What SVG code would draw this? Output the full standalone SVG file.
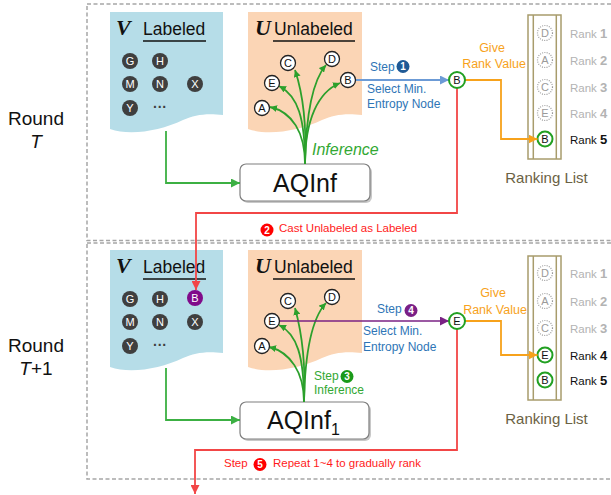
<svg xmlns="http://www.w3.org/2000/svg" width="611" height="495" viewBox="0 0 611 495">
<style>
text{font-family:"Liberation Sans",Arial,sans-serif}
.panel{fill:none;stroke:#a6a6a6;stroke-width:1.5;stroke-dasharray:4 2.5}
.blue{fill:#b6dde8}
.peach{fill:#fbd5b5}
.dk circle{fill:#3f3f3f}
.dk text{fill:#fff;font-size:11px;text-anchor:middle}
.wn circle{fill:#fff;stroke:#222;stroke-width:1.3}
.wn text{fill:#111;font-size:11px;text-anchor:middle}
.gn circle{fill:#fff;stroke:#22a022;stroke-width:2}
.gn text{fill:#111;font-size:11px;text-anchor:middle}
.dn circle{fill:#fff;stroke:#9a9a9a;stroke-width:1.2;stroke-dasharray:1 1.3}
.dn text{fill:#9a9a9a;font-size:11px;text-anchor:middle}
.rk{font-size:11.5px;fill:#b3b3b3}
.rk tspan{font-weight:bold;font-size:13px}
.rkb{font-size:11.5px;fill:#111}
.rkb tspan{font-weight:bold;font-size:13px}
.list{fill:#fff;stroke:#a89c6c;stroke-width:1.5}
.lline{stroke:#a89c6c;stroke-width:1.5}
.title{font-size:17.5px;fill:#111}
.ul{stroke:#111;stroke-width:1.3}
.script{font-family:"Liberation Serif",serif;font-style:italic;font-weight:bold;font-size:22px;fill:#111}
.bluet{font-size:12px;fill:#2e75b6}
.orange{font-size:12.5px;fill:#f7a21b;text-anchor:middle}
.redt{font-size:11.5px;fill:#ff1a1a}
.greent{font-size:12px;fill:#33a833}
.badge text{fill:#fff;font-size:10px;font-weight:bold;text-anchor:middle}
.box{fill:#fff;stroke:#7f7f7f;stroke-width:1.2}
.shadow{fill:#c8c8c8}
.round{font-size:19px;fill:#111;text-anchor:middle}
.fan{fill:none;stroke:#2ca02c;stroke-width:1.8}
.cg{fill:none;stroke:#3cb043;stroke-width:1.8}
.cb{fill:none;stroke:#6c9bd6;stroke-width:1.8}
.cp{fill:none;stroke:#7a2284;stroke-width:1.5}
.co{fill:none;stroke:#f7a21b;stroke-width:1.8}
.cr{fill:none;stroke:#f24646;stroke-width:1.8}
</style>
<defs>
<marker id="mg" viewBox="0 0 10 10" refX="10" refY="5" markerWidth="7" markerHeight="7" markerUnits="userSpaceOnUse" orient="auto"><path d="M0,0 L10,5 L0,10 z" fill="#2ca02c"/></marker>
<marker id="mg2" viewBox="0 0 10 10" refX="10" refY="5" markerWidth="9" markerHeight="9" markerUnits="userSpaceOnUse" orient="auto"><path d="M0,0 L10,5 L0,10 z" fill="#3cb043"/></marker>
<marker id="mb" viewBox="0 0 10 10" refX="10" refY="5" markerWidth="9" markerHeight="9" markerUnits="userSpaceOnUse" orient="auto"><path d="M0,0 L10,5 L0,10 z" fill="#6c9bd6"/></marker>
<marker id="mp" viewBox="0 0 10 10" refX="10" refY="5" markerWidth="9" markerHeight="9" markerUnits="userSpaceOnUse" orient="auto"><path d="M0,0 L10,5 L0,10 z" fill="#7a2284"/></marker>
<marker id="mo" viewBox="0 0 10 10" refX="10" refY="5" markerWidth="9" markerHeight="9" markerUnits="userSpaceOnUse" orient="auto"><path d="M0,0 L10,5 L0,10 z" fill="#f7a21b"/></marker>
<marker id="mr" viewBox="0 0 10 10" refX="10" refY="5" markerWidth="9" markerHeight="9" markerUnits="userSpaceOnUse" orient="auto"><path d="M0,0 L10,5 L0,10 z" fill="#f24646"/></marker>
</defs>

<g id="panels">
<rect class="panel" x="87" y="4" width="540" height="236.5"/>
<rect class="panel" x="87" y="243" width="540" height="236"/>
</g>

<g id="round-labels">
<text class="round" x="36" y="125">Round</text>
<text class="round" x="36" y="148" font-style="italic">T</text>
<text class="round" x="36" y="352">Round</text>
<text class="round" x="36" y="375"><tspan font-style="italic">T</tspan>+1</text>
</g>

<!-- ===== Round T ===== -->
<g id="labeled-T">
<path class="blue" d="M110,12 H223 V115 C205,113 195,115 183,120 C160,131 130,136 110,129 Z"/>
<text class="script" x="116" y="35">V</text>
<text class="title" x="143" y="35">Labeled</text>
<line class="ul" x1="143" y1="41" x2="206" y2="41"/>
<g class="dk">
<circle cx="130" cy="61" r="8"/><text x="130" y="65">G</text>
<circle cx="160" cy="61" r="8"/><text x="160" y="65">H</text>
<circle cx="130" cy="84" r="8"/><text x="130" y="88">M</text>
<circle cx="160" cy="84" r="8"/><text x="160" y="88">N</text>
<circle cx="195" cy="84" r="8"/><text x="195" y="88">X</text>
<circle cx="130" cy="108" r="8"/><text x="130" y="112">Y</text>
</g>
<text x="160" y="112" font-size="14" font-weight="bold" fill="#3f3f3f" text-anchor="middle">···</text>
</g>

<g id="unlabeled-T">
<path class="peach" d="M248,12 H362 V115 C344,113 334,115 322,120 C299,131 268,136 248,129 Z"/>
<text class="script" x="255" y="35" font-weight="normal" font-size="24">U</text>
<text class="title" x="274" y="35">Unlabeled</text>
<line class="ul" x1="273" y1="41" x2="355" y2="41"/>
</g>

<g id="aqinf-T">
<rect class="shadow" x="242" y="166" width="130" height="37" rx="6"/>
<rect class="box" x="240" y="164" width="130" height="37" rx="6"/>
<text x="305" y="192" font-size="25" text-anchor="middle" fill="#111">AQInf</text>
</g>

<g id="ranking-T">
<rect class="list" x="528" y="15" width="33" height="144"/>
<line class="lline" x1="533.3" y1="15" x2="533.3" y2="159"/>
<line class="lline" x1="556.3" y1="15" x2="556.3" y2="159"/>
<g class="dn"><circle cx="545" cy="33" r="7.5"/><text x="545" y="37">D</text></g>
<g class="dn"><circle cx="545" cy="60" r="7.5"/><text x="545" y="64">A</text></g>
<g class="dn"><circle cx="545" cy="87" r="7.5"/><text x="545" y="91">C</text></g>
<g class="dn"><circle cx="545" cy="113" r="7.5"/><text x="545" y="117">E</text></g>
<g class="gn"><circle cx="545" cy="139" r="7.5"/><text x="545" y="143">B</text></g>
<text class="rk" x="570" y="37.5">Rank <tspan>1</tspan></text>
<text class="rk" x="570" y="64.5">Rank <tspan>2</tspan></text>
<text class="rk" x="570" y="91.5">Rank <tspan>3</tspan></text>
<text class="rk" x="570" y="117.5">Rank <tspan>4</tspan></text>
<text class="rkb" x="570" y="143.5">Rank <tspan>5</tspan></text>
<text x="546.5" y="183" font-size="15" fill="#6b6244" text-anchor="middle">Ranking List</text>
</g>

<!-- ===== Round T+1 ===== -->
<g id="labeled-T1">
<path class="blue" d="M110,250 H223 V353 C205,351 195,353 183,358 C160,369 130,374 110,367 Z"/>
<text class="script" x="116" y="273">V</text>
<text class="title" x="143" y="273">Labeled</text>
<line class="ul" x1="143" y1="279" x2="206" y2="279"/>
<g class="dk">
<circle cx="130" cy="299" r="8"/><text x="130" y="303">G</text>
<circle cx="160" cy="299" r="8"/><text x="160" y="303">H</text>
<circle cx="130" cy="322" r="8"/><text x="130" y="326">M</text>
<circle cx="160" cy="322" r="8"/><text x="160" y="326">N</text>
<circle cx="195" cy="322" r="8"/><text x="195" y="326">X</text>
<circle cx="130" cy="346" r="8"/><text x="130" y="350">Y</text>
</g>
<text x="160" y="350" font-size="14" font-weight="bold" fill="#3f3f3f" text-anchor="middle">···</text>
</g>

<g id="unlabeled-T1">
<path class="peach" d="M248,250 H362 V353 C344,351 334,353 322,358 C299,369 268,374 248,367 Z"/>
<text class="script" x="255" y="273" font-weight="normal" font-size="24">U</text>
<text class="title" x="274" y="273">Unlabeled</text>
<line class="ul" x1="273" y1="279" x2="355" y2="279"/>
</g>

<g id="aqinf-T1">
<rect class="shadow" x="242" y="404" width="129" height="37" rx="6"/>
<rect class="box" x="240" y="402" width="129" height="37" rx="6"/>
<text x="267" y="429" font-size="25" fill="#111">AQInf<tspan font-size="16" dy="6">1</tspan></text>
</g>

<g id="ranking-T1">
<rect class="list" x="528" y="256" width="33" height="144"/>
<line class="lline" x1="533.3" y1="256" x2="533.3" y2="400"/>
<line class="lline" x1="556.3" y1="256" x2="556.3" y2="400"/>
<g class="dn"><circle cx="545" cy="273" r="7.5"/><text x="545" y="277">D</text></g>
<g class="dn"><circle cx="545" cy="301" r="7.5"/><text x="545" y="305">A</text></g>
<g class="dn"><circle cx="545" cy="328" r="7.5"/><text x="545" y="332">C</text></g>
<g class="gn"><circle cx="545" cy="355" r="7.5"/><text x="545" y="359">E</text></g>
<g class="gn"><circle cx="545" cy="380" r="7.5"/><text x="545" y="384">B</text></g>
<text class="rk" x="570" y="277.5">Rank <tspan>1</tspan></text>
<text class="rk" x="570" y="305.5">Rank <tspan>2</tspan></text>
<text class="rk" x="570" y="332.5">Rank <tspan>3</tspan></text>
<text class="rkb" x="570" y="359.5">Rank <tspan>4</tspan></text>
<text class="rkb" x="570" y="384.5">Rank <tspan>5</tspan></text>
<text x="546.5" y="424" font-size="15" fill="#6b6244" text-anchor="middle">Ranking List</text>
</g>

<!-- ===== connectors ===== -->
<g id="connectors">
<path class="fan" marker-end="url(#mg)" d="M305,164 C305,132 292,112 270,107"/>
<path class="fan" marker-end="url(#mg)" d="M305,164 C305,118 298,96 279,86"/>
<path class="fan" marker-end="url(#mg)" d="M305,164 C307,120 301,88 295,70"/>
<path class="fan" marker-end="url(#mg)" d="M305,164 C306,112 313,80 326,65"/>
<path class="fan" marker-end="url(#mg)" d="M305,164 C305,120 318,92 340,83"/>
<path class="cg" marker-end="url(#mg2)" d="M166,131 V183 H240"/>
<path class="cb" marker-end="url(#mb)" d="M356,80 H449"/>
<path class="co" marker-end="url(#mo)" d="M465,80 H501 V139 H537.5"/>
<path class="cr" marker-end="url(#mr)" d="M457,88 V213 H196 V290"/>

<path class="fan" marker-end="url(#mg)" d="M304,402 C304,372 290,352 269,347"/>
<path class="fan" marker-end="url(#mg)" d="M304,402 C304,356 297,334 279,325"/>
<path class="fan" marker-end="url(#mg)" d="M304,402 C306,360 300,326 295,308"/>
<path class="fan" marker-end="url(#mg)" d="M304,402 C305,350 312,318 326,303"/>
<path class="cg" marker-end="url(#mg2)" d="M166,368 V420 H240"/>
<path class="cp" marker-end="url(#mp)" d="M280,321 H449"/>
<path class="co" marker-end="url(#mo)" d="M465,321 H501 V355 H537.5"/>
<path class="cr" marker-end="url(#mr)" d="M457,329 V450 H195 V494"/>
</g>

<!-- nodes in unlabeled sets and selected nodes -->
<g id="u-nodes-T" class="wn">
<g id="uA"><circle cx="262" cy="108" r="7.5"/><text x="262" y="112">A</text></g>
<g id="uE"><circle cx="272" cy="83" r="7.5"/><text x="272" y="87">E</text></g>
<g id="uC"><circle cx="288" cy="63" r="7.5"/><text x="288" y="67">C</text></g>
<g id="uD"><circle cx="332" cy="59" r="7.5"/><text x="332" y="63">D</text></g>
<g id="uB"><circle cx="348" cy="80" r="7.5"/><text x="348" y="84">B</text></g>
</g>
<g id="sel-B" class="gn"><circle cx="457" cy="80" r="8"/><text x="457" y="84">B</text></g>

<g id="u-nodes-T1" class="wn">
<g id="uA1"><circle cx="262" cy="346" r="7.5"/><text x="262" y="350">A</text></g>
<g id="uE1"><circle cx="272" cy="321" r="7.5"/><text x="272" y="325">E</text></g>
<g id="uC1"><circle cx="288" cy="301" r="7.5"/><text x="288" y="305">C</text></g>
<g id="uD1"><circle cx="332" cy="297" r="7.5"/><text x="332" y="301">D</text></g>
</g>
<g id="sel-E" class="gn"><circle cx="457" cy="321" r="8"/><text x="457" y="325">E</text></g>
<g id="labeled-B"><circle cx="195" cy="298" r="8" fill="#800a8a"/><text x="195" y="302" fill="#fff" font-size="11" text-anchor="middle">B</text></g>

<!-- labels -->
<g id="labels">
<text class="bluet" x="370" y="71">Step</text>
<g class="badge"><circle cx="403" cy="66.5" r="6.5" fill="#1f5a96"/><text x="403" y="70">1</text></g>
<text class="bluet" x="367" y="93">Select Min.</text>
<text class="bluet" x="367" y="108">Entropy Node</text>
<text class="orange" x="492" y="52">Give</text>
<text class="orange" x="494" y="68">Rank Value</text>
<text x="312" y="155" font-family="Liberation Serif,serif" font-style="italic" font-size="16" fill="#33a833">Inference</text>
<g class="badge"><circle cx="267" cy="230" r="6.5" fill="#ff0000"/><text x="267" y="233.5">2</text></g>
<text class="redt" x="279" y="232">Cast Unlabeled as Labeled</text>

<text class="bluet" x="377" y="313">Step</text>
<g class="badge"><circle cx="411" cy="310.5" r="6.5" fill="#7a1f86"/><text x="411" y="314">4</text></g>
<text class="bluet" x="363" y="335">Select Min.</text>
<text class="bluet" x="363" y="351">Entropy Node</text>
<text class="orange" x="493" y="297">Give</text>
<text class="orange" x="495" y="314">Rank Value</text>
<text class="greent" x="314" y="380">Step</text>
<g class="badge"><circle cx="347" cy="376.5" r="6.5" fill="#1a9a1a"/><text x="347" y="380">3</text></g>
<text class="greent" x="314" y="394">Inference</text>
<text class="redt" x="224" y="467">Step</text>
<g class="badge"><circle cx="260" cy="464.5" r="6.5" fill="#ff0000"/><text x="260" y="468">5</text></g>
<text class="redt" x="273" y="467">Repeat 1~4 to gradually rank</text>
</g>
</svg>
